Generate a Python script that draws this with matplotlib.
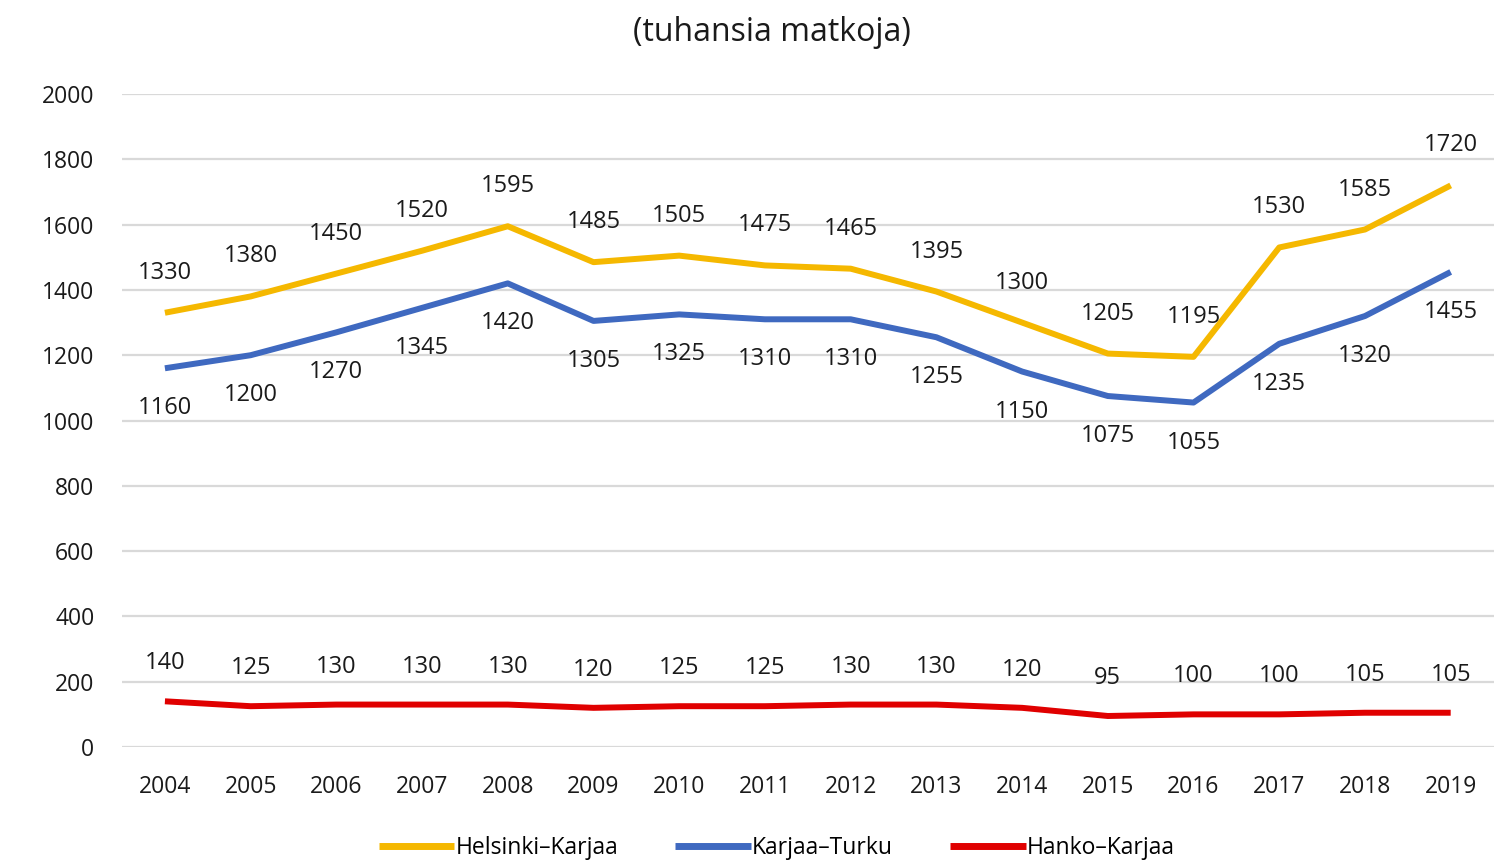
import matplotlib.pyplot as plt

years = [str(y) for y in range(2004, 2020)]
helsinki_karjaa = [1330, 1380, 1450, 1520, 1595, 1485, 1505, 1475, 1465, 1395, 1300, 1205, 1195, 1530, 1585, 1720]
karjaa_turku = [1160, 1200, 1270, 1345, 1420, 1305, 1325, 1310, 1310, 1255, 1150, 1075, 1055, 1235, 1320, 1455]
hanko_karjaa = [140, 125, 130, 130, 130, 120, 125, 125, 130, 130, 120, 95, 100, 100, 105, 105]

series = [
    ("Helsinki\u2013Karjaa", helsinki_karjaa, "#F5B800", 40),
    ("Karjaa\u2013Turku", karjaa_turku, "#3F69C0", -40),
    ("Hanko\u2013Karjaa", hanko_karjaa, "#E00000", 38),
]

plt.rcParams["font.family"] = ["Open Sans", "DejaVu Sans"]

fig = plt.figure(figsize=(14.94, 8.64), dpi=100)
ax = fig.add_axes([0.0817, 0.1354, 0.918, 0.7558])

x = list(range(len(years)))
for name, vals, color, off in series:
    ax.plot(x, vals, color=color, lw=4.3, label=name, solid_capstyle="butt")
    for xi, v in zip(x, vals):
        ax.annotate(str(v), (xi, v), xytext=(0, off), textcoords="offset pixels",
                    ha="center", va="center", fontsize=17, color="#1a1a1a")

ax.set_xlim(-0.5, len(years) - 0.5)
ax.set_ylim(0, 2000)
ax.set_yticks(range(0, 2001, 200))
ax.set_xticks(x)
ax.set_xticklabels(years)
ax.tick_params(axis="both", length=0, labelsize=16.5, labelcolor="#1a1a1a")
ax.tick_params(axis="y", pad=20)
ax.tick_params(axis="x", pad=20)
ax.grid(axis="y", color="#D9D9D9", lw=1.6)
ax.set_axisbelow(True)
for s in ax.spines.values():
    s.set_visible(False)

fig.text(0.517, 0.962, "(tuhansia matkoja)", ha="center", va="center", fontsize=23, color="#1a1a1a")

leg = fig.legend(loc="center", bbox_to_anchor=(0.52, 0.018), ncol=3, frameon=False,
                 fontsize=16.5, handlelength=3.3, handletextpad=0.05, columnspacing=2.5)
for line in leg.get_lines():
    line.set_linewidth(5)

fig.savefig("out.png", dpi=100)
